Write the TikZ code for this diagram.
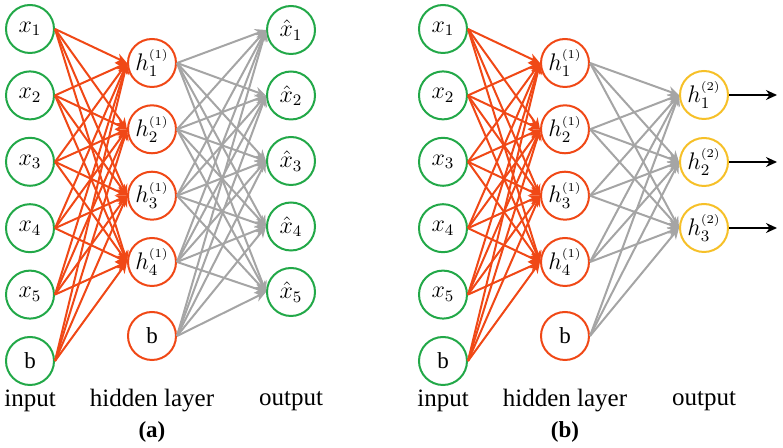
\documentclass[tikz,border=0pt]{standalone}
\usepackage{amsmath}
\usepackage{fontspec}
\setmainfont{Liberation Serif}
\usetikzlibrary{positioning, arrows.meta}

\definecolor{ingreen}{RGB}{34,168,72}
\definecolor{hidred}{RGB}{240,72,22}
\definecolor{linkgray}{RGB}{165,165,165}
\definecolor{outyellow}{RGB}{246,192,40}

\tikzset{
    neuron/.style={circle, draw, line width=1pt, minimum size=24pt, inner sep=0pt, font=\fontsize{11.5}{14}\selectfont},
    inneuron/.style={neuron, draw=ingreen},
    hidneuron/.style={neuron, draw=hidred},
    outneuron/.style={neuron, draw=outyellow},
    redlink/.style={draw=hidred, line width=1pt, -{Stealth[length=5.5pt,width=5pt]}},
    graylink/.style={draw=linkgray, line width=1pt, -{Stealth[length=5.5pt,width=5pt]}},
    outlink/.style={draw=black, line width=0.8pt, -{Stealth[length=5.5pt,width=5pt]}},
    layerlabel/.style={font=\fontsize{12.5}{14}\selectfont},
    caption/.style={font=\fontsize{11.5}{13}\selectfont\bfseries}
}

\begin{document}
\begin{tikzpicture}[x=0.5pt, y=-0.5pt]
    \useasboundingbox (0,0) rectangle (783,448);

    % (a) autoencoder
    \foreach \i/\y in {1/29, 2/95.4, 3/161.8, 4/228.2, 5/294.6}
        \node [inneuron] (ax\i) at (30,\y) {$x_\i$};
    \node [inneuron] (axb) at (30,361) {b};
    \foreach \i/\y in {1/63, 2/129.3, 3/195.7, 4/262}
        \node [hidneuron] (ah\i) at (152,\y) {$h_\i^{\scriptscriptstyle(1)}$};
    \node [hidneuron] (ahb) at (152,336) {b};
    \foreach \i/\y in {1/30, 2/95.5, 3/161, 4/226.5, 5/292}
        \node [inneuron] (ao\i) at (291,\y) {$\hat{x}_\i$};

    \foreach \s in {1,2,3,4,5,b}
        \foreach \t in {1,2,3,4}
            \draw [redlink] (ax\s.east) -- (ah\t.west);
    \foreach \s in {1,2,3,4,b}
        \foreach \t in {1,2,3,4,5}
            \draw [graylink] (ah\s.east) -- (ao\t.west);

    \node [layerlabel] (ainput) at (30,401) {input};
    \node [layerlabel] (ahidden) at (152,401) {hidden layer};
    \node [layerlabel] (aoutput) at (291,401) {output};
    \node [caption] (acap) at (152,432) {(a)};

    % (b) stacked layer
    \foreach \i/\y in {1/29, 2/95.4, 3/161.8, 4/228.2, 5/294.6}
        \node [inneuron] (bx\i) at (443,\y) {$x_\i$};
    \node [inneuron] (bxb) at (443,361) {b};
    \foreach \i/\y in {1/63, 2/129.3, 3/195.7, 4/262}
        \node [hidneuron] (bh\i) at (565,\y) {$h_\i^{\scriptscriptstyle(1)}$};
    \node [hidneuron] (bhb) at (565,336) {b};
    \foreach \i/\y in {1/95, 2/162, 3/228} {
        \node [outneuron] (bo\i) at (704,\y) {$h_\i^{\scriptscriptstyle(2)}$};
        \coordinate (be\i) at (777,\y);
    }

    \foreach \s in {1,2,3,4,5,b}
        \foreach \t in {1,2,3,4}
            \draw [redlink] (bx\s.east) -- (bh\t.west);
    \foreach \s in {1,2,3,4,b}
        \foreach \t in {1,2,3}
            \draw [graylink] (bh\s.east) -- (bo\t.west);
    \foreach \i in {1,2,3}
        \draw [outlink] (bo\i.east) -- (be\i);

    \node [layerlabel] (binput) at (443,401) {input};
    \node [layerlabel] (bhidden) at (565,401) {hidden layer};
    \node [layerlabel] (boutput) at (704,401) {output};
    \node [caption] (bcap) at (565,432) {(b)};
\end{tikzpicture}
\end{document}
